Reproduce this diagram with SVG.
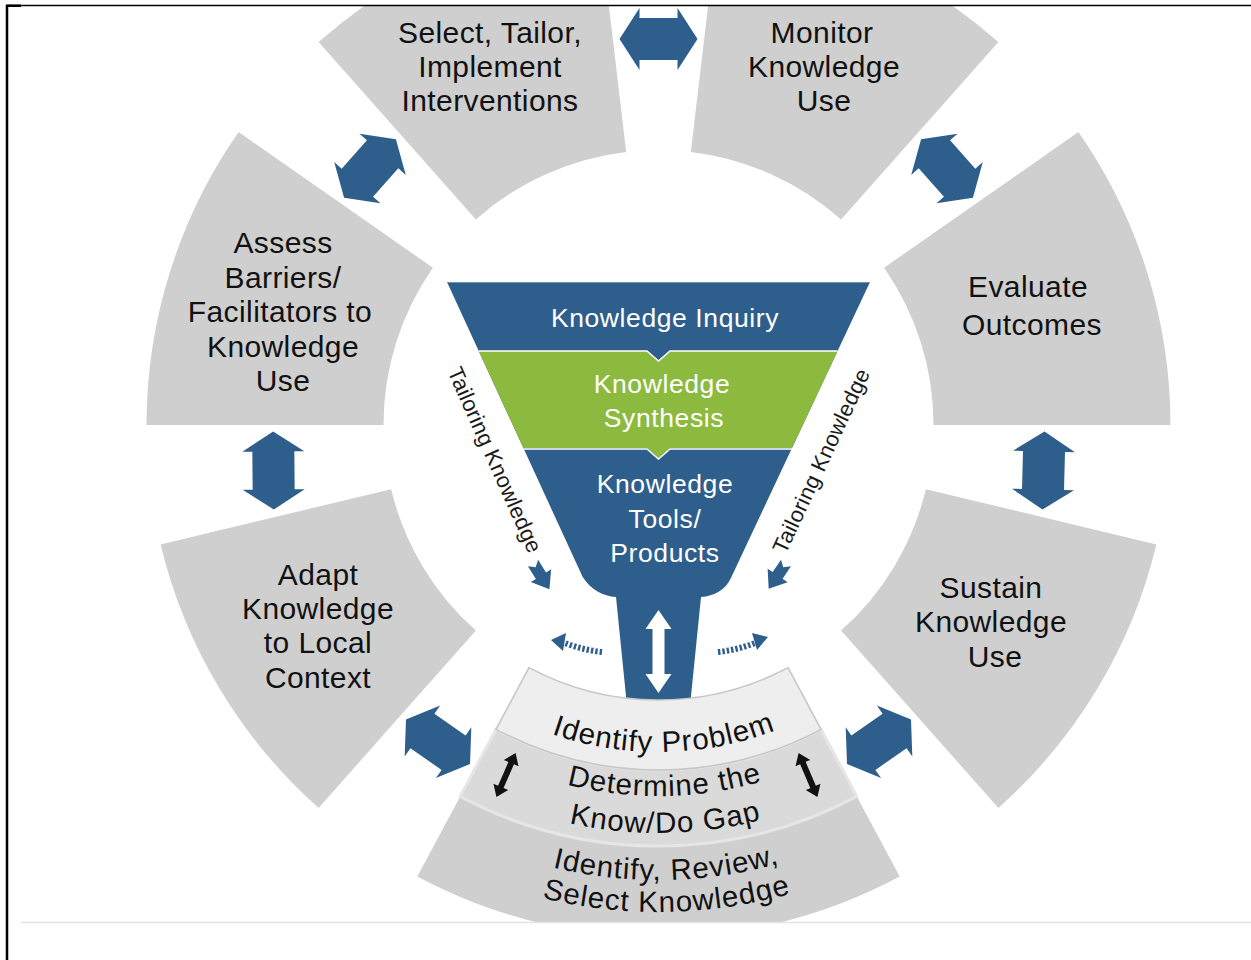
<svg xmlns="http://www.w3.org/2000/svg" xmlns:xlink="http://www.w3.org/1999/xlink" width="1251" height="960" viewBox="0 0 1251 960">
  <style>
    .sector { fill: #cfcfcf; }
    .lbl { font-family: "Liberation Sans", Arial, sans-serif; font-size: 30px; fill: #111; text-anchor: middle; letter-spacing: 0.4px; }
    .arc { font-family: "Liberation Sans", Arial, sans-serif; font-size: 29.5px; fill: #111; letter-spacing: 1px; }
    .fun { font-family: "Liberation Sans", Arial, sans-serif; font-size: 26.5px; fill: #fff; text-anchor: middle; letter-spacing: 0.6px; }
    .tail { font-family: "Liberation Sans", Arial, sans-serif; font-size: 22px; fill: #1a1a1a; text-anchor: middle; letter-spacing: 0.2px; }
    .blue { fill: #2e5e8c; }
  </style>
  <defs>
    <clipPath id="page"><rect x="8" y="6" width="1243" height="916"/></clipPath>
    <!-- chunky two-headed block arrow, drawn along the x axis -->
    <polygon id="dbl" points="-39,0 -19,-31 -19,-21 19,-21 19,-31 39,0 19,31 19,21 -19,21 -19,31"/>
    <!-- small two-headed black arrow -->
    <polygon id="dblSmall" points="-24,0 -13,-8 -13,-3 13,-3 13,-8 24,0 13,8 13,3 -13,3 -13,8"/>
    <!-- notched block arrow pointing along +x -->
    <polygon id="notch" points="0,-6 15,-6 15,-12 31,0 15,12 15,6 0,6 5,0"/>
    <!-- baselines for the curved labels of the bottom segment -->
    <path id="r327" d="M 461.7 686.1 A 327 327 0 0 0 864.3 679.1"/>
    <path id="r371" d="M 435.2 721.3 A 371 371 0 0 0 892.0 713.3"/>
    <path id="r408" d="M 413.0 750.8 A 408 408 0 0 0 915.3 742.1"/>
    <path id="r455" d="M 384.7 788.4 A 455 455 0 0 0 944.8 778.6"/>
    <path id="r487" d="M 365.4 813.9 A 487 487 0 0 0 965.0 803.4"/>
  </defs>

  <rect width="1251" height="960" fill="#fff"/>

  <g clip-path="url(#page)">
    <!-- outer ring of action steps -->
    <g id="select">
      <path class="sector" d="M 318.6 42.1 A 512 512 0 0 1 598.3 -83.5 L 626.2 151.9 A 275 275 0 0 0 475.9 219.4 Z"/>
      <text class="lbl" x="490" y="43">Select, Tailor,</text>
      <text class="lbl" x="490" y="77">Implement</text>
      <text class="lbl" x="490" y="111">Interventions</text>
    </g>
    <g id="monitor">
      <path class="sector" d="M 718.7 -83.5 A 512 512 0 0 1 998.4 42.1 L 841.1 219.4 A 275 275 0 0 0 690.8 151.9 Z"/>
      <text class="lbl" x="822" y="43">Monitor</text>
      <text class="lbl" x="824" y="77">Knowledge</text>
      <text class="lbl" x="824" y="111">Use</text>
    </g>
    <g id="evaluate">
      <path class="sector" d="M 1078.4 132.1 A 512 512 0 0 1 1170.5 425 L 933.5 425 A 275 275 0 0 0 884.1 267.7 Z"/>
      <text class="lbl" x="1028" y="297">Evaluate</text>
      <text class="lbl" x="1032" y="335">Outcomes</text>
    </g>
    <g id="sustain">
      <path class="sector" d="M 1156.4 544.5 A 512 512 0 0 1 998.4 807.9 L 841.1 630.6 A 275 275 0 0 0 925.9 489.2 Z"/>
      <text class="lbl" x="991" y="598">Sustain</text>
      <text class="lbl" x="991" y="632">Knowledge</text>
      <text class="lbl" x="995" y="667">Use</text>
    </g>
    <g id="adapt">
      <path class="sector" d="M 318.6 807.9 A 512 512 0 0 1 160.6 544.5 L 391.1 489.2 A 275 275 0 0 0 475.9 630.6 Z"/>
      <text class="lbl" x="318" y="585">Adapt</text>
      <text class="lbl" x="318" y="619">Knowledge</text>
      <text class="lbl" x="318" y="653">to Local</text>
      <text class="lbl" x="318" y="688">Context</text>
    </g>
    <g id="assess">
      <path class="sector" d="M 146.5 425 A 512 512 0 0 1 238.6 132.1 L 432.9 267.7 A 275 275 0 0 0 383.5 425 Z"/>
      <text class="lbl" x="283" y="253">Assess</text>
      <text class="lbl" x="283" y="288">Barriers/</text>
      <text class="lbl" x="280" y="322">Facilitators to</text>
      <text class="lbl" x="283" y="357">Knowledge</text>
      <text class="lbl" x="283" y="391">Use</text>
    </g>

    <!-- knowledge creation funnel -->
    <g id="funnel">
      <path class="blue" d="M 447 282 L 870 282 L 731.4 577 C 726 590 714 596 701 597 L 690 706 L 627 706 L 616 597 C 603 596 591 590 582.7 577 Z"/>
      <path fill="#8cba3e" d="M 478.7 351 L 647 351 L 658.5 361 L 670 351 L 837.6 351 L 792 448 L 670 448 L 658.5 458 L 647 448 L 523.4 448 Z"/>
      <polyline fill="none" stroke="#fff" stroke-width="1.6" points="478.7,351 647,351 658.5,361 670,351 837.6,351"/>
      <polyline fill="none" stroke="#fff" stroke-width="1.6" points="523.4,449 647,449 658.5,459 670,449 792,449"/>
      <line x1="447" y1="282.5" x2="870" y2="282.5" stroke="#6f93b6" stroke-width="1"/>
      <text class="fun" x="665" y="327">Knowledge Inquiry</text>
      <text class="fun" x="662" y="393">Knowledge</text>
      <text class="fun" x="664" y="427">Synthesis</text>
      <text class="fun" x="665" y="493">Knowledge</text>
      <text class="fun" x="665" y="528">Tools/</text>
      <text class="fun" x="665" y="562">Products</text>
    </g>

    <!-- bottom segment: problem identification bands -->
    <g id="problem">
      <path fill="#cfcfcf" d="M 460.2 796.4 A 421 421 0 0 0 856.8 796.4 L 899.7 876.6 A 512 512 0 0 1 417.3 876.6 Z"/>
      <path fill="#dadada" stroke="#e6e6e6" stroke-width="3" d="M 496.0 729.3 A 345 345 0 0 0 821.0 729.3 L 856.8 796.4 A 421 421 0 0 1 460.2 796.4 Z"/>
      <path fill="#edeeed" stroke="#c6c6c6" stroke-width="1.5" d="M 529.0 667.6 A 275 275 0 0 0 788.0 667.6 L 821.0 729.3 A 345 345 0 0 1 496.0 729.3 Z"/>
      <text class="arc"><textPath href="#r327" startOffset="50%" text-anchor="middle">Identify Problem</textPath></text>
      <text class="arc"><textPath href="#r371" startOffset="50%" text-anchor="middle">Determine the</textPath></text>
      <text class="arc"><textPath href="#r408" startOffset="50%" text-anchor="middle">Know/Do Gap</textPath></text>
      <text class="arc"><textPath href="#r455" startOffset="50%" text-anchor="middle">Identify, Review,</textPath></text>
      <text class="arc"><textPath href="#r487" startOffset="50%" text-anchor="middle">Select Knowledge</textPath></text>
    </g>

    <!-- tailoring labels along the funnel sides -->
    <g id="tailoring">
      <text class="tail" transform="translate(488 463) rotate(66)">Tailoring Knowledge</text>
      <text class="tail" transform="translate(828 464) rotate(-65)">Tailoring Knowledge</text>
    </g>

    <!-- connectors -->
    <g id="connectors">
      <g class="blue">
        <use href="#dbl" transform="translate(658.5 39)"/>
        <use href="#dbl" transform="translate(947 168.5) rotate(48.35)"/>
        <use href="#dbl" transform="translate(1043.5 470.5) rotate(91.5)"/>
        <use href="#dbl" transform="translate(879 741.8) rotate(145.15)"/>
        <use href="#dbl" transform="translate(438 741.8) rotate(214.85)"/>
        <use href="#dbl" transform="translate(273.5 470.5) rotate(89.5)"/>
        <use href="#dbl" transform="translate(370 168.5) rotate(311.65)"/>
        <use href="#notch" transform="translate(533 563) rotate(58)"/>
        <use href="#notch" transform="translate(786 563) rotate(124)"/>
        <polygon points="551,640 566,633 563,651"/>
        <polygon points="768,637 752,633 757,650"/>
      </g>
      <path d="M 602 652 Q 583 650 565 643" fill="none" stroke="#2e5e8c" stroke-width="6" stroke-dasharray="2.4 2"/>
      <path d="M 718 652 Q 737 650 755 643" fill="none" stroke="#2e5e8c" stroke-width="6" stroke-dasharray="2.4 2"/>
      <polygon fill="#fff" points="658.5,610 671.5,629 664.5,629 664.5,674 671.5,674 658.5,693 645.5,674 652.5,674 652.5,629 645.5,629"/>
      <use href="#dblSmall" fill="#111" transform="translate(506 775) rotate(113.5)"/>
      <use href="#dblSmall" fill="#111" transform="translate(808 775) rotate(66.9)"/>
    </g>
  </g>

  <!-- page frame -->
  <line x1="7" y1="5.5" x2="1251" y2="5.5" stroke="#000" stroke-width="1.5"/>
  <rect x="6" y="4.5" width="15" height="2.5" fill="#000"/>
  <line x1="7" y1="5" x2="7" y2="960" stroke="#000" stroke-width="2.5"/>
  <line x1="21" y1="922.5" x2="1251" y2="922.5" stroke="#e3e3e3" stroke-width="1.5"/>
</svg>
